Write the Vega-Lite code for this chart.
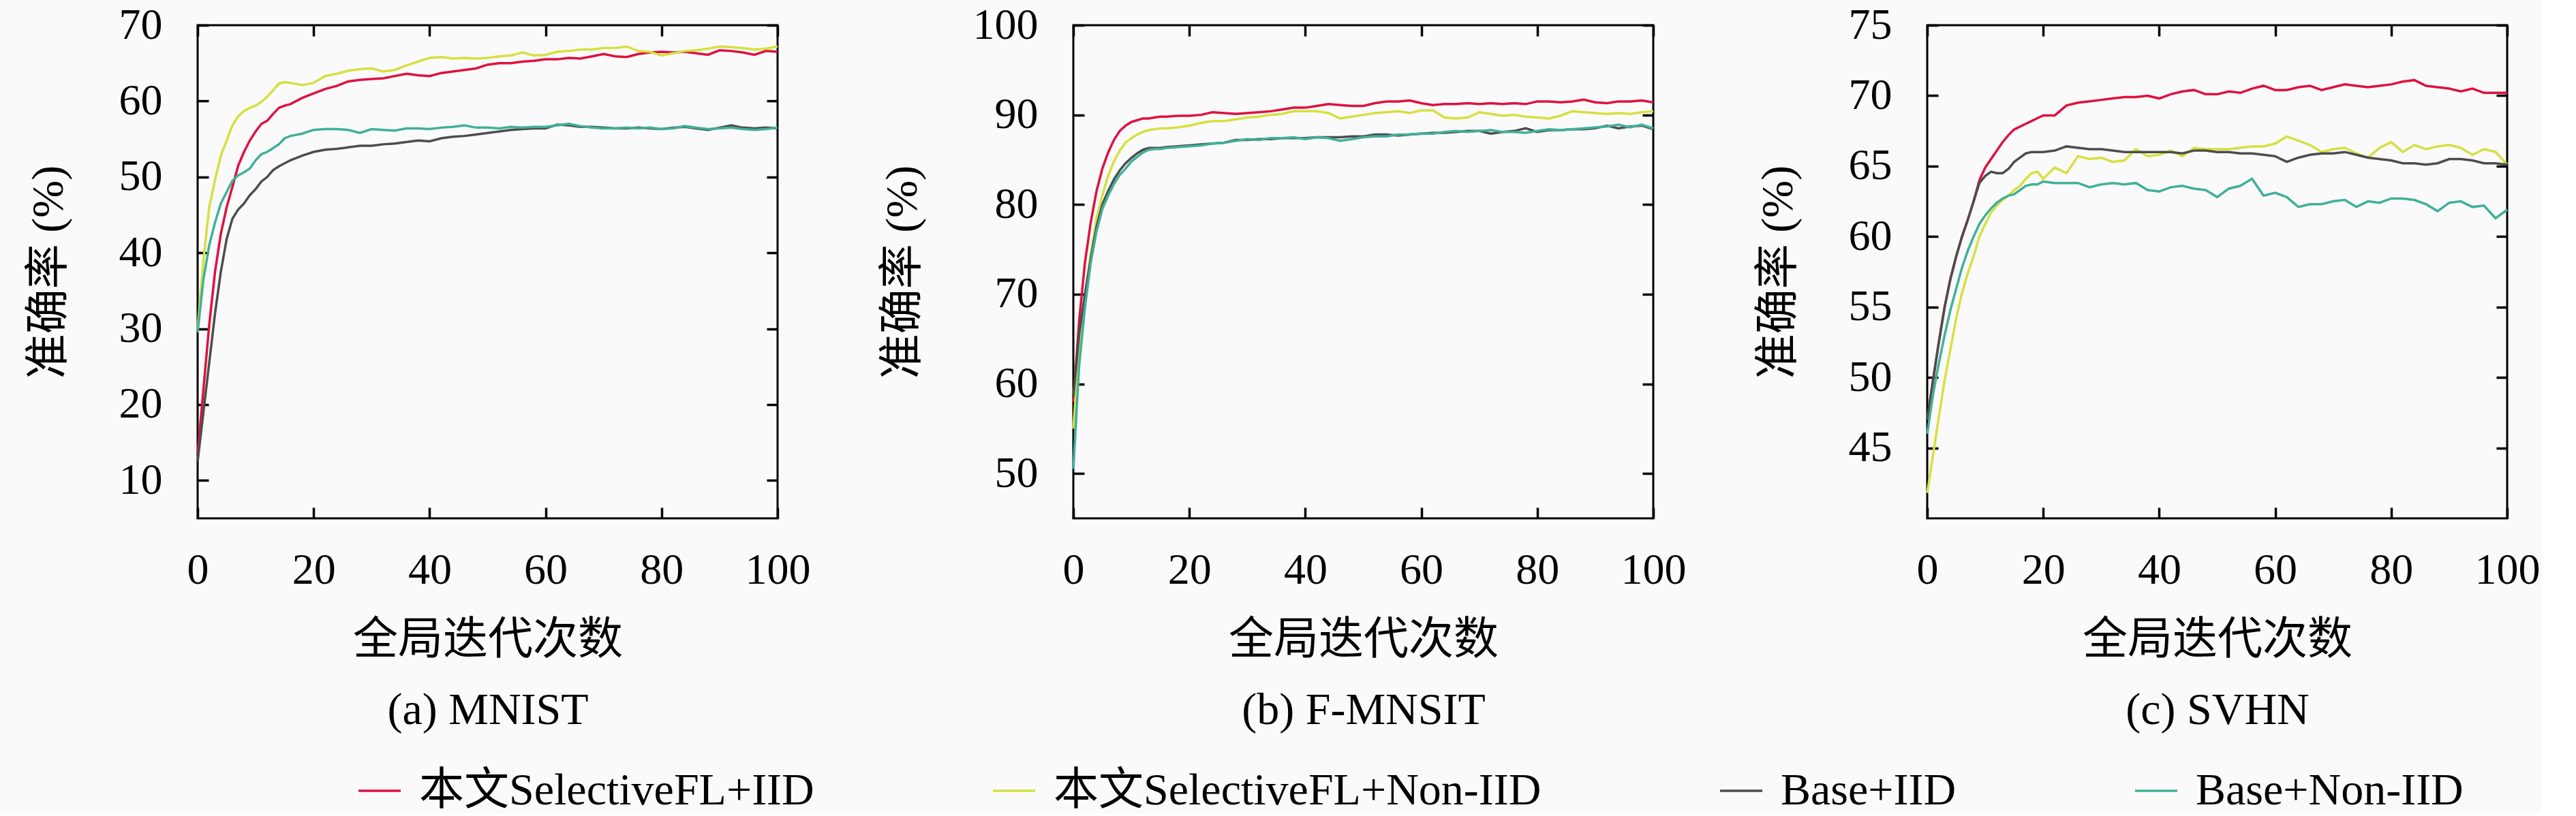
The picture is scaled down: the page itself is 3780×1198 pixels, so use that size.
{
  "$schema": "https://vega.github.io/schema/vega-lite/v6.json",
  "background": "#fafafa",
  "padding": {"left": 36, "top": 3, "right": 0, "bottom": 0},
  "datasets": {
    "a": [
      {"x":0,"A":13.5,"B":30,"C":12.5,"D":29.5},
      {"x":1,"A":22,"B":39,"C":19,"D":36.5},
      {"x":2,"A":30.5,"B":46,"C":25.5,"D":41},
      {"x":3,"A":37.5,"B":49.6,"C":32,"D":44},
      {"x":4,"A":42.5,"B":52.8,"C":37.5,"D":46.5},
      {"x":5,"A":46,"B":54.8,"C":41.8,"D":48},
      {"x":6,"A":48.7,"B":56.8,"C":44.5,"D":49.5},
      {"x":7,"A":51.5,"B":58,"C":45.7,"D":50.2},
      {"x":8,"A":53.3,"B":58.7,"C":46.5,"D":50.6},
      {"x":9,"A":54.8,"B":59.1,"C":47.6,"D":51.1},
      {"x":10,"A":56,"B":59.4,"C":48.4,"D":52.2},
      {"x":11,"A":57,"B":59.9,"C":49.4,"D":53},
      {"x":12,"A":57.4,"B":60.6,"C":50,"D":53.3},
      {"x":13,"A":58.3,"B":61.4,"C":50.9,"D":53.8},
      {"x":14,"A":59.1,"B":62.3,"C":51.4,"D":54.3},
      {"x":15,"A":59.4,"B":62.5,"C":51.8,"D":55.1},
      {"x":16,"A":59.6,"B":62.4,"C":52.2,"D":55.4},
      {"x":18,"A":60.4,"B":62.1,"C":52.8,"D":55.7},
      {"x":20,"A":61,"B":62.4,"C":53.3,"D":56.2},
      {"x":22,"A":61.6,"B":63.3,"C":53.6,"D":56.3},
      {"x":24,"A":62,"B":63.6,"C":53.7,"D":56.3},
      {"x":26,"A":62.6,"B":64,"C":53.9,"D":56.2},
      {"x":28,"A":62.8,"B":64.2,"C":54.1,"D":55.8},
      {"x":30,"A":62.9,"B":64.3,"C":54.1,"D":56.3},
      {"x":32,"A":63,"B":63.9,"C":54.3,"D":56.2},
      {"x":34,"A":63.3,"B":64.1,"C":54.4,"D":56.1},
      {"x":36,"A":63.6,"B":64.7,"C":54.6,"D":56.4},
      {"x":38,"A":63.4,"B":65.2,"C":54.8,"D":56.4},
      {"x":40,"A":63.3,"B":65.7,"C":54.7,"D":56.3},
      {"x":42,"A":63.7,"B":65.8,"C":55.1,"D":56.5},
      {"x":44,"A":63.9,"B":65.6,"C":55.3,"D":56.6},
      {"x":46,"A":64.1,"B":65.7,"C":55.4,"D":56.8},
      {"x":48,"A":64.3,"B":65.6,"C":55.6,"D":56.5},
      {"x":50,"A":64.8,"B":65.7,"C":55.8,"D":56.5},
      {"x":52,"A":65,"B":65.9,"C":56,"D":56.4},
      {"x":54,"A":65,"B":66,"C":56.2,"D":56.6},
      {"x":56,"A":65.2,"B":66.4,"C":56.3,"D":56.5},
      {"x":58,"A":65.3,"B":66,"C":56.4,"D":56.6},
      {"x":60,"A":65.5,"B":66.1,"C":56.4,"D":56.6},
      {"x":62,"A":65.5,"B":66.5,"C":56.9,"D":56.8},
      {"x":64,"A":65.7,"B":66.6,"C":56.8,"D":57},
      {"x":66,"A":65.6,"B":66.8,"C":56.6,"D":56.7},
      {"x":68,"A":65.9,"B":66.8,"C":56.6,"D":56.5},
      {"x":70,"A":66.2,"B":67,"C":56.5,"D":56.4},
      {"x":72,"A":65.9,"B":67,"C":56.4,"D":56.4},
      {"x":74,"A":65.8,"B":67.2,"C":56.4,"D":56.5},
      {"x":76,"A":66.2,"B":66.6,"C":56.5,"D":56.4},
      {"x":78,"A":66.4,"B":66.5,"C":56.4,"D":56.5},
      {"x":80,"A":66.5,"B":66,"C":56.3,"D":56.3},
      {"x":82,"A":66.4,"B":66.3,"C":56.5,"D":56.4},
      {"x":84,"A":66.5,"B":66.6,"C":56.6,"D":56.7},
      {"x":86,"A":66.3,"B":66.7,"C":56.4,"D":56.5},
      {"x":88,"A":66.1,"B":66.9,"C":56.2,"D":56.3},
      {"x":90,"A":66.7,"B":67.2,"C":56.5,"D":56.4},
      {"x":92,"A":66.6,"B":67.1,"C":56.8,"D":56.5},
      {"x":94,"A":66.4,"B":67,"C":56.5,"D":56.3},
      {"x":96,"A":66.1,"B":66.8,"C":56.4,"D":56.2},
      {"x":98,"A":66.6,"B":66.9,"C":56.5,"D":56.3},
      {"x":100,"A":66.5,"B":67.2,"C":56.4,"D":56.5}
    ],
    "b": [
      {"x":0,"A":58,"B":55,"C":58.5,"D":50.5},
      {"x":1,"A":67,"B":64,"C":65.5,"D":62},
      {"x":2,"A":73.5,"B":69.5,"C":70,"D":68.5},
      {"x":3,"A":78,"B":74.5,"C":74,"D":73.5},
      {"x":4,"A":81.5,"B":78.5,"C":77.5,"D":77},
      {"x":5,"A":84,"B":81,"C":80,"D":79.5},
      {"x":6,"A":85.8,"B":83.2,"C":81.5,"D":81},
      {"x":7,"A":87.2,"B":84.8,"C":82.8,"D":82.3},
      {"x":8,"A":88.2,"B":86,"C":83.8,"D":83.3},
      {"x":9,"A":88.8,"B":86.9,"C":84.6,"D":84},
      {"x":10,"A":89.2,"B":87.4,"C":85.2,"D":84.8},
      {"x":11,"A":89.4,"B":87.8,"C":85.7,"D":85.3},
      {"x":12,"A":89.6,"B":88.1,"C":86.1,"D":85.8},
      {"x":13,"A":89.6,"B":88.3,"C":86.3,"D":86.1},
      {"x":14,"A":89.7,"B":88.4,"C":86.3,"D":86.2},
      {"x":15,"A":89.8,"B":88.5,"C":86.3,"D":86.2},
      {"x":16,"A":89.8,"B":88.5,"C":86.4,"D":86.3},
      {"x":18,"A":89.9,"B":88.6,"C":86.5,"D":86.4},
      {"x":20,"A":89.9,"B":88.8,"C":86.6,"D":86.5},
      {"x":22,"A":90,"B":89.1,"C":86.7,"D":86.6},
      {"x":24,"A":90.3,"B":89.3,"C":86.8,"D":86.8},
      {"x":26,"A":90.2,"B":89.3,"C":86.9,"D":86.9},
      {"x":28,"A":90.1,"B":89.5,"C":87.2,"D":87.1},
      {"x":30,"A":90.2,"B":89.7,"C":87.2,"D":87.3},
      {"x":32,"A":90.3,"B":89.8,"C":87.3,"D":87.2},
      {"x":34,"A":90.4,"B":90,"C":87.3,"D":87.4},
      {"x":36,"A":90.6,"B":90.1,"C":87.4,"D":87.4},
      {"x":38,"A":90.8,"B":90.4,"C":87.4,"D":87.5},
      {"x":40,"A":90.8,"B":90.4,"C":87.4,"D":87.3},
      {"x":42,"A":91,"B":90.4,"C":87.5,"D":87.5},
      {"x":44,"A":91.2,"B":90.2,"C":87.5,"D":87.4},
      {"x":46,"A":91.1,"B":89.6,"C":87.5,"D":87.1},
      {"x":48,"A":91,"B":89.8,"C":87.6,"D":87.3},
      {"x":50,"A":91,"B":90,"C":87.6,"D":87.5},
      {"x":52,"A":91.3,"B":90.2,"C":87.8,"D":87.6},
      {"x":54,"A":91.5,"B":90.3,"C":87.8,"D":87.6},
      {"x":56,"A":91.5,"B":90.4,"C":87.7,"D":87.8},
      {"x":58,"A":91.6,"B":90.2,"C":87.8,"D":87.8},
      {"x":60,"A":91.3,"B":90.5,"C":87.9,"D":87.9},
      {"x":62,"A":91.1,"B":90.5,"C":88,"D":87.9},
      {"x":64,"A":91.2,"B":89.7,"C":88,"D":88.1},
      {"x":66,"A":91.2,"B":89.6,"C":88.1,"D":88.2},
      {"x":68,"A":91.3,"B":89.7,"C":88.2,"D":88.1},
      {"x":70,"A":91.2,"B":90.3,"C":88.2,"D":88.2},
      {"x":72,"A":91.3,"B":90.1,"C":87.9,"D":88.3},
      {"x":74,"A":91.2,"B":89.9,"C":88.1,"D":88.1},
      {"x":76,"A":91.3,"B":90,"C":88.2,"D":88.1},
      {"x":78,"A":91.2,"B":89.8,"C":88.5,"D":88},
      {"x":80,"A":91.5,"B":89.7,"C":88.1,"D":88.2},
      {"x":82,"A":91.5,"B":89.6,"C":88.3,"D":88.4},
      {"x":84,"A":91.4,"B":89.9,"C":88.3,"D":88.3},
      {"x":86,"A":91.5,"B":90.4,"C":88.4,"D":88.4},
      {"x":88,"A":91.7,"B":90.3,"C":88.4,"D":88.5},
      {"x":90,"A":91.4,"B":90.2,"C":88.5,"D":88.6},
      {"x":92,"A":91.3,"B":90.1,"C":88.8,"D":88.7},
      {"x":94,"A":91.5,"B":90.2,"C":88.5,"D":88.9},
      {"x":96,"A":91.5,"B":90.1,"C":88.7,"D":88.6},
      {"x":98,"A":91.6,"B":90.3,"C":88.8,"D":88.9},
      {"x":100,"A":91.4,"B":90.4,"C":88.4,"D":88.5}
    ],
    "c": [
      {"x":0,"A":47,"B":41.8,"C":47,"D":46},
      {"x":1,"A":49.8,"B":44.5,"C":49.8,"D":48.8},
      {"x":2,"A":52.5,"B":47.2,"C":52.5,"D":51},
      {"x":3,"A":55,"B":49.8,"C":55,"D":53},
      {"x":4,"A":57,"B":52,"C":57,"D":54.8},
      {"x":5,"A":58.6,"B":54.2,"C":58.6,"D":56.3},
      {"x":6,"A":60,"B":56,"C":60,"D":57.8},
      {"x":7,"A":61.2,"B":57.4,"C":61.2,"D":59},
      {"x":8,"A":62.5,"B":58.6,"C":62.5,"D":60},
      {"x":9,"A":64,"B":60,"C":63.8,"D":60.9},
      {"x":10,"A":64.9,"B":60.9,"C":64.3,"D":61.5},
      {"x":11,"A":65.5,"B":61.7,"C":64.6,"D":62},
      {"x":12,"A":66.1,"B":62.2,"C":64.5,"D":62.4},
      {"x":13,"A":66.7,"B":62.6,"C":64.5,"D":62.7},
      {"x":14,"A":67.2,"B":62.9,"C":64.8,"D":62.9},
      {"x":15,"A":67.6,"B":63.3,"C":65.3,"D":63},
      {"x":16,"A":67.8,"B":63.6,"C":65.6,"D":63.3},
      {"x":17,"A":68,"B":64.1,"C":65.9,"D":63.6},
      {"x":18,"A":68.2,"B":64.5,"C":66,"D":63.7},
      {"x":19,"A":68.4,"B":64.6,"C":66,"D":63.7},
      {"x":20,"A":68.6,"B":64.1,"C":66,"D":63.9},
      {"x":22,"A":68.6,"B":64.9,"C":66.1,"D":63.8},
      {"x":24,"A":69.3,"B":64.5,"C":66.4,"D":63.8},
      {"x":26,"A":69.5,"B":65.7,"C":66.3,"D":63.8},
      {"x":28,"A":69.6,"B":65.5,"C":66.2,"D":63.5},
      {"x":30,"A":69.7,"B":65.6,"C":66.2,"D":63.7},
      {"x":32,"A":69.8,"B":65.3,"C":66.1,"D":63.8},
      {"x":34,"A":69.9,"B":65.4,"C":66,"D":63.7},
      {"x":36,"A":69.9,"B":66.2,"C":66,"D":63.8},
      {"x":38,"A":70,"B":65.7,"C":66,"D":63.3},
      {"x":40,"A":69.8,"B":65.8,"C":66,"D":63.2},
      {"x":42,"A":70.1,"B":66.1,"C":66,"D":63.5},
      {"x":44,"A":70.3,"B":65.7,"C":65.9,"D":63.6},
      {"x":46,"A":70.4,"B":66.3,"C":66.1,"D":63.4},
      {"x":48,"A":70.1,"B":66.2,"C":66.1,"D":63.3},
      {"x":50,"A":70.1,"B":66.2,"C":66,"D":62.8},
      {"x":52,"A":70.3,"B":66.2,"C":66,"D":63.4},
      {"x":54,"A":70.2,"B":66.3,"C":65.9,"D":63.6},
      {"x":56,"A":70.5,"B":66.4,"C":65.9,"D":64.1},
      {"x":58,"A":70.7,"B":66.4,"C":65.8,"D":62.9},
      {"x":60,"A":70.4,"B":66.6,"C":65.7,"D":63.1},
      {"x":62,"A":70.4,"B":67.1,"C":65.3,"D":62.8},
      {"x":64,"A":70.6,"B":66.8,"C":65.6,"D":62.1},
      {"x":66,"A":70.7,"B":66.5,"C":65.8,"D":62.3},
      {"x":68,"A":70.4,"B":66,"C":65.9,"D":62.3},
      {"x":70,"A":70.6,"B":66.2,"C":65.9,"D":62.5},
      {"x":72,"A":70.8,"B":66.3,"C":66,"D":62.6},
      {"x":74,"A":70.7,"B":65.9,"C":65.8,"D":62.1},
      {"x":76,"A":70.6,"B":65.6,"C":65.6,"D":62.5},
      {"x":78,"A":70.7,"B":66.3,"C":65.5,"D":62.4},
      {"x":80,"A":70.8,"B":66.7,"C":65.4,"D":62.7},
      {"x":82,"A":71,"B":66,"C":65.2,"D":62.7},
      {"x":84,"A":71.1,"B":66.5,"C":65.2,"D":62.6},
      {"x":86,"A":70.7,"B":66.2,"C":65.1,"D":62.3},
      {"x":88,"A":70.6,"B":66.4,"C":65.2,"D":61.8},
      {"x":90,"A":70.5,"B":66.5,"C":65.5,"D":62.4},
      {"x":92,"A":70.3,"B":66.3,"C":65.5,"D":62.5},
      {"x":94,"A":70.5,"B":65.8,"C":65.4,"D":62.1},
      {"x":96,"A":70.2,"B":66.2,"C":65.2,"D":62.2},
      {"x":98,"A":70.2,"B":66,"C":65.2,"D":61.3},
      {"x":100,"A":70.2,"B":65.1,"C":65.1,"D":61.9}
    ]
  },
  "hconcat": [
    {
      "width": 851, "height": 724,
      "data": {"name": "a"},
      "transform": [{"fold": ["A","B","C","D"], "as": ["s","acc"]}],
      "layer": [
        {
          "mark": {"type": "line", "strokeWidth": 3.5},
          "encoding": {
            "x": {"field": "x", "type": "quantitative", "scale": {"domain": [0,100]}, "axis": {"values": [0,20,40,60,80,100], "title": ["全局迭代次数", "(a) MNIST"]}},
            "y": {"field": "acc", "type": "quantitative", "scale": {"domain": [5,70]}, "axis": {"values": [10,20,30,40,50,60,70], "title": "准确率 (%)"}},
            "color": {"field": "s", "type": "nominal", "scale": {"domain": ["A","B","C","D"], "range": ["#e0103f","#d6e040","#4d4d4d","#40b09a"]},
              "legend": {"orient": "none", "legendX": 234, "legendY": 1091, "direction": "horizontal", "columns": 4, "title": null,
                "labelExpr": "datum.label == 'A' ? '本文SelectiveFL+IID' : datum.label == 'B' ? '本文SelectiveFL+Non-IID' : datum.label == 'C' ? 'Base+IID' : 'Base+Non-IID'"}}
          }
        },
        {
          "mark": {"type": "point", "opacity": 0},
          "encoding": {
            "x": {"field": "x", "type": "quantitative", "scale": {"domain": [0,100]}, "axis": {"orient": "top", "values": [0,20,40,60,80,100], "labels": false, "labelPadding": 0, "title": null}},
            "y": {"field": "acc", "type": "quantitative", "scale": {"domain": [5,70]}, "axis": {"orient": "right", "values": [10,20,30,40,50,60,70], "labels": false, "labelPadding": 0, "title": null}}
          }
        }
      ],
      "resolve": {"axis": {"x": "independent", "y": "independent"}}
    },
    {
      "width": 851, "height": 724,
      "data": {"name": "b"},
      "transform": [{"fold": ["A","B","C","D"], "as": ["s","acc"]}],
      "layer": [
        {
          "mark": {"type": "line", "strokeWidth": 3.5},
          "encoding": {
            "x": {"field": "x", "type": "quantitative", "scale": {"domain": [0,100]}, "axis": {"values": [0,20,40,60,80,100], "title": ["全局迭代次数", "(b) F-MNSIT"]}},
            "y": {"field": "acc", "type": "quantitative", "scale": {"domain": [45,100]}, "axis": {"values": [50,60,70,80,90,100], "title": "准确率 (%)"}},
            "color": {"field": "s", "type": "nominal", "scale": {"domain": ["A","B","C","D"], "range": ["#e0103f","#d6e040","#4d4d4d","#40b09a"]}}
          }
        },
        {
          "mark": {"type": "point", "opacity": 0},
          "encoding": {
            "x": {"field": "x", "type": "quantitative", "scale": {"domain": [0,100]}, "axis": {"orient": "top", "values": [0,20,40,60,80,100], "labels": false, "labelPadding": 0, "title": null}},
            "y": {"field": "acc", "type": "quantitative", "scale": {"domain": [45,100]}, "axis": {"orient": "right", "values": [50,60,70,80,90,100], "labels": false, "labelPadding": 0, "title": null}}
          }
        }
      ],
      "resolve": {"axis": {"x": "independent", "y": "independent"}}
    },
    {
      "width": 851, "height": 724,
      "data": {"name": "c"},
      "transform": [{"fold": ["A","B","C","D"], "as": ["s","acc"]}],
      "layer": [
        {
          "mark": {"type": "line", "strokeWidth": 3.5},
          "encoding": {
            "x": {"field": "x", "type": "quantitative", "scale": {"domain": [0,100]}, "axis": {"values": [0,20,40,60,80,100], "title": ["全局迭代次数", "(c) SVHN"]}},
            "y": {"field": "acc", "type": "quantitative", "scale": {"domain": [40,75]}, "axis": {"values": [45,50,55,60,65,70,75], "title": "准确率 (%)"}},
            "color": {"field": "s", "type": "nominal", "scale": {"domain": ["A","B","C","D"], "range": ["#e0103f","#d6e040","#4d4d4d","#40b09a"]}}
          }
        },
        {
          "mark": {"type": "point", "opacity": 0},
          "encoding": {
            "x": {"field": "x", "type": "quantitative", "scale": {"domain": [0,100]}, "axis": {"orient": "top", "values": [0,20,40,60,80,100], "labels": false, "labelPadding": 0, "title": null}},
            "y": {"field": "acc", "type": "quantitative", "scale": {"domain": [40,75]}, "axis": {"orient": "right", "values": [45,50,55,60,65,70,75], "labels": false, "labelPadding": 0, "title": null}}
          }
        }
      ],
      "resolve": {"axis": {"x": "independent", "y": "independent"}}
    }
  ],
  "spacing": 98,
  "resolve": {"scale": {"color": "shared"}, "legend": {"color": "shared"}},
  "config": {
    "font": "'Liberation Serif', 'Noto Sans CJK SC'",
    "view": {"stroke": "black", "strokeWidth": 3, "fill": "#fafafa"},
    "axis": {
      "domain": false, "grid": false,
      "ticks": true, "tickColor": "black", "tickWidth": 3.5, "tickSize": -16,
      "labelFont": "'Liberation Serif', 'Noto Sans CJK SC'", "labelFontSize": 64, "labelColor": "black",
      "labelFlush": false, "labelOverlap": false,
      "titleFont": "'Liberation Serif', 'Noto Sans CJK SC'", "titleFontSize": 66, "titleFontWeight": "normal", "titleColor": "black"
    },
    "axisX": {"labelPadding": 60, "titlePadding": 38, "titleLineHeight": 103},
    "axisY": {"labelPadding": 68, "titlePadding": 69},
    "legend": {
      "symbolType": "stroke", "symbolSize": 3844, "symbolStrokeWidth": 3.5,
      "labelFont": "'Liberation Serif', 'Noto Sans CJK SC'", "labelFontSize": 66, "labelColor": "black",
      "labelOffset": 25, "columnPadding": 255, "labelLimit": 0
    }
  }
}
